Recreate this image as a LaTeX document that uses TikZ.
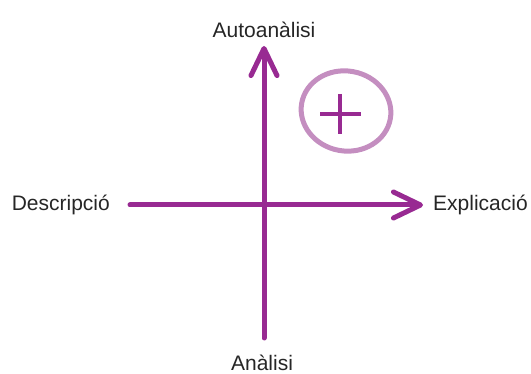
\documentclass[tikz,border=0pt]{standalone}
\usepackage{fontspec}
\setmainfont{Liberation Sans}
\usetikzlibrary{arrows.meta}
\definecolor{eixlila}{RGB}{152,42,146}
\definecolor{cerclelila}{RGB}{196,142,192}

\begin{document}
\begin{tikzpicture}[x=1pt,y=-1pt,
    eix/.style={line width=5pt,color=eixlila,line cap=round},
    etiqueta/.style={font=\fontsize{21}{24}\selectfont,text=black!85,inner sep=0pt}]
            \useasboundingbox (0,0) rectangle (531,374);
            \coordinate (B) at (264,338);
            \coordinate (T) at (264,46);
            \coordinate (E) at (130,205);
            \coordinate (D) at (423,205);
            \node[etiqueta] (autoanalisi) at (264,30) {Autoanàlisi};
            \node[etiqueta] (analisi) at (262,363) {Anàlisi};
            \node[etiqueta,anchor=east] (descripcio) at (110,205) {Descripció};
            \node[etiqueta,anchor=west] (explicacio) at (433,205) {Explicació};
            \draw[eix,-{Straight Barb[length=27pt,width=26pt,round]}] (B) -- (T);
            \draw[eix,-{Straight Barb[length=27pt,width=26pt,round]}] (E) -- (D);
            % el cercle amb el signe mes
            \draw[line width=5pt,color=cerclelila,rotate around={-10:(346,111)}] (346,111) ellipse (45 and 40);
            \draw[line width=4.5pt,color=eixlila] (320,114) -- (361,114) (340,94) -- (340,134);
        \end{tikzpicture}
\end{document}
